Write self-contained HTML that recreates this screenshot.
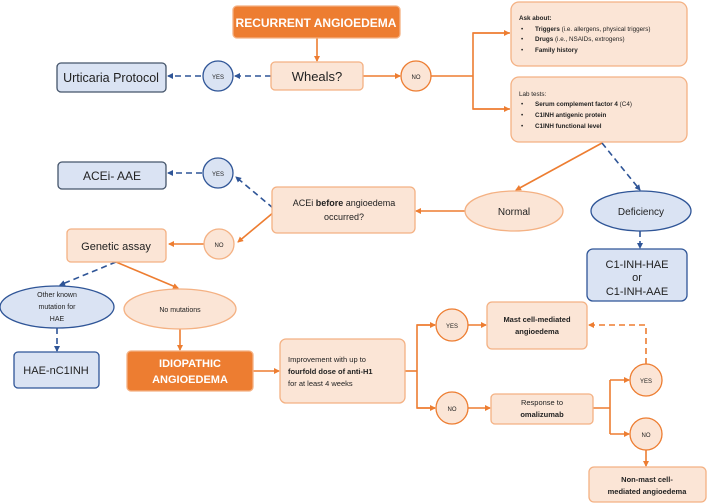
<!DOCTYPE html>
<html><head><meta charset="utf-8"><style>
html,body{margin:0;padding:0;background:#fff;}
svg{display:block;font-family:"Liberation Sans",sans-serif;}
</style></head><body>
<svg width="708" height="504" viewBox="0 0 708 504" xmlns="http://www.w3.org/2000/svg">
<defs>
<marker id="ao" markerWidth="6" markerHeight="6" refX="5" refY="3" orient="auto" markerUnits="userSpaceOnUse"><path d="M0,0 L6,3 L0,6 z" fill="#ED7D31"/></marker>
<marker id="ab" markerWidth="6" markerHeight="6" refX="5" refY="3" orient="auto" markerUnits="userSpaceOnUse"><path d="M0,0 L6,3 L0,6 z" fill="#2F5597"/></marker>
</defs>
<g fill="none" stroke-width="1.6">
<g stroke="#ED7D31">
<line x1="317" y1="38" x2="317" y2="61" marker-end="url(#ao)"/>
<line x1="363" y1="76" x2="400" y2="76" marker-end="url(#ao)"/>
<line x1="431" y1="76" x2="473" y2="76"/>
<polyline points="510,33 473,33 473,109 510,109"/>
<line x1="473" y1="33" x2="509" y2="33" marker-end="url(#ao)"/>
<line x1="473" y1="109" x2="509" y2="109" marker-end="url(#ao)"/>
<line x1="602" y1="143" x2="516" y2="190" marker-end="url(#ao)"/>
<line x1="465" y1="211" x2="416" y2="211" marker-end="url(#ao)"/>
<line x1="274" y1="212" x2="238" y2="242" marker-end="url(#ao)"/>
<line x1="205" y1="244" x2="169" y2="244" marker-end="url(#ao)"/>
<line x1="116" y1="262" x2="178" y2="288" marker-end="url(#ao)"/>
<line x1="180" y1="329" x2="180" y2="350" marker-end="url(#ao)"/>
<line x1="253" y1="371" x2="279" y2="371" marker-end="url(#ao)"/>
<line x1="405" y1="371" x2="417" y2="371"/>
<polyline points="435,325 417,325 417,408 435,408"/>
<line x1="417" y1="325" x2="435" y2="325" marker-end="url(#ao)"/>
<line x1="417" y1="408" x2="435" y2="408" marker-end="url(#ao)"/>
<line x1="468" y1="325" x2="486" y2="325" marker-end="url(#ao)"/>
<line x1="468" y1="408" x2="490" y2="408" marker-end="url(#ao)"/>
<line x1="593" y1="408" x2="610" y2="408"/>
<line x1="610" y1="380" x2="610" y2="434"/>
<line x1="610" y1="380" x2="629" y2="380" marker-end="url(#ao)"/>
<line x1="610" y1="434" x2="629" y2="434" marker-end="url(#ao)"/>
<line x1="646" y1="450" x2="646" y2="466" marker-end="url(#ao)"/>
<polyline points="646,364 646,325 589,325" stroke-dasharray="6,4" marker-end="url(#ao)"/>
</g>
<g stroke="#2F5597" stroke-dasharray="6,4">
<line x1="271" y1="76" x2="235" y2="76" marker-end="url(#ab)"/>
<line x1="201" y1="76" x2="168" y2="76" marker-end="url(#ab)"/>
<line x1="602" y1="143" x2="640" y2="190" marker-end="url(#ab)"/>
<line x1="640" y1="231" x2="640" y2="248" marker-end="url(#ab)"/>
<line x1="273" y1="208" x2="236" y2="177" marker-end="url(#ab)"/>
<line x1="202" y1="173" x2="168" y2="173" marker-end="url(#ab)"/>
<line x1="116" y1="262" x2="60" y2="285" marker-end="url(#ab)"/>
<line x1="57" y1="328" x2="57" y2="351" marker-end="url(#ab)"/>
</g>
</g>
<g stroke-width="1.3">
<rect x="233" y="6" width="167" height="32" rx="4" fill="#ED7D31" stroke="#F4B183"/>
<rect x="271" y="62" width="92" height="28" rx="4" fill="#FBE5D6" stroke="#F4B183"/>
<rect x="57" y="63" width="109" height="29" rx="4" fill="#DAE3F3" stroke="#44546A"/>
<circle cx="218" cy="76" r="15" fill="#DAE3F3" stroke="#2F5597"/>
<circle cx="416" cy="76" r="15" fill="#FBE5D6" stroke="#ED7D31"/>
<rect x="511" y="2" width="176" height="64" rx="8" fill="#FBE5D6" stroke="#F4B183"/>
<rect x="511" y="77" width="176" height="65" rx="8" fill="#FBE5D6" stroke="#F4B183"/>
<ellipse cx="514" cy="211" rx="49" ry="20" fill="#FBE5D6" stroke="#F4B183"/>
<ellipse cx="641" cy="211" rx="50" ry="20" fill="#DAE3F3" stroke="#2F5597"/>
<rect x="272" y="187" width="143" height="46" rx="5" fill="#FBE5D6" stroke="#F4B183"/>
<circle cx="218" cy="173" r="15" fill="#DAE3F3" stroke="#2F5597"/>
<rect x="58" y="162" width="108" height="27" rx="4" fill="#DAE3F3" stroke="#44546A"/>
<circle cx="219" cy="244" r="15" fill="#FBE5D6" stroke="#F4B183"/>
<rect x="67" y="229" width="99" height="33" rx="4" fill="#FBE5D6" stroke="#F4B183"/>
<rect x="587" y="249" width="100" height="52" rx="6" fill="#DAE3F3" stroke="#2F5597"/>
<ellipse cx="57" cy="307" rx="57" ry="21" fill="#DAE3F3" stroke="#2F5597"/>
<ellipse cx="180" cy="309" rx="56" ry="20" fill="#FBE5D6" stroke="#F4B183"/>
<rect x="14" y="352" width="85" height="36" rx="4" fill="#DAE3F3" stroke="#2F5597"/>
<rect x="127" y="351" width="126" height="40" rx="4" fill="#ED7D31" stroke="#F4B183"/>
<rect x="280" y="339" width="125" height="64" rx="6" fill="#FBE5D6" stroke="#F4B183"/>
<circle cx="452" cy="325" r="16" fill="#FBE5D6" stroke="#ED7D31"/>
<circle cx="452" cy="408" r="16" fill="#FBE5D6" stroke="#ED7D31"/>
<rect x="487" y="302" width="100" height="47" rx="5" fill="#FBE5D6" stroke="#F4B183"/>
<rect x="491" y="394" width="102" height="30" rx="4" fill="#FBE5D6" stroke="#F4B183"/>
<circle cx="646" cy="380" r="16" fill="#FBE5D6" stroke="#ED7D31"/>
<circle cx="646" cy="434" r="16" fill="#FBE5D6" stroke="#ED7D31"/>
<rect x="589" y="467" width="117" height="35" rx="5" fill="#FBE5D6" stroke="#F4B183"/>
</g>
<g fill="#222" text-anchor="middle">
<text x="316" y="27" font-size="12" font-weight="bold" fill="#fff">RECURRENT ANGIOEDEMA</text>
<text x="317" y="81" font-size="13">Wheals?</text>
<text x="111" y="82" font-size="12.5">Urticaria Protocol</text>
<text x="218" y="79" font-size="6">YES</text>
<text x="416" y="79" font-size="6">NO</text>
<text x="514" y="215" font-size="10">Normal</text>
<text x="641" y="215" font-size="10">Deficiency</text>
<text x="344" y="206" font-size="9">ACEi <tspan font-weight="bold">before</tspan> angioedema</text>
<text x="344" y="220" font-size="9">occurred?</text>
<text x="218" y="176" font-size="6">YES</text>
<text x="112" y="180" font-size="12">ACEi- AAE</text>
<text x="219" y="247" font-size="6">NO</text>
<text x="116" y="250" font-size="11">Genetic assay</text>
<text x="637" y="268" font-size="11">C1-INH-HAE</text>
<text x="637" y="281" font-size="11">or</text>
<text x="637" y="295" font-size="11">C1-INH-AAE</text>
<text x="57" y="297" font-size="7">Other known</text>
<text x="57" y="309" font-size="7">mutation for</text>
<text x="57" y="321" font-size="7">HAE</text>
<text x="180" y="312" font-size="7">No mutations</text>
<text x="56" y="374" font-size="11">HAE-nC1INH</text>
<text x="190" y="367" font-size="11" font-weight="bold" fill="#fff">IDIOPATHIC</text>
<text x="190" y="383" font-size="11" font-weight="bold" fill="#fff">ANGIOEDEMA</text>
<g text-anchor="start" font-size="7.5">
<text x="288" y="362">Improvement with up to</text>
<text x="288" y="374" font-weight="bold">fourfold dose of anti-H1</text>
<text x="288" y="386">for at least 4 weeks</text>
</g>
<text x="452" y="328" font-size="6">YES</text>
<text x="452" y="411" font-size="6">NO</text>
<text x="537" y="322" font-size="7.5" font-weight="bold">Mast cell-mediated</text>
<text x="537" y="334" font-size="7.5" font-weight="bold">angioedema</text>
<text x="542" y="405" font-size="7.5">Response to</text>
<text x="542" y="417" font-size="7.5" font-weight="bold">omalizumab</text>
<text x="646" y="383" font-size="6">YES</text>
<text x="646" y="437" font-size="6">NO</text>
<text x="647" y="482" font-size="7.5" font-weight="bold">Non-mast cell-</text>
<text x="647" y="494" font-size="7.5" font-weight="bold">mediated angioedema</text>
</g>
<g font-size="6.3" fill="#222">
<text x="519" y="20" font-weight="bold">Ask about:</text>
<text x="521" y="31">•</text><text x="535" y="31"><tspan font-weight="bold">Triggers</tspan> (i.e. allergens, physical triggers)</text>
<text x="521" y="41">•</text><text x="535" y="41"><tspan font-weight="bold">Drugs</tspan> (i.e., NSAIDs, extrogens)</text>
<text x="521" y="52">•</text><text x="535" y="52" font-weight="bold">Family history</text>
<text x="519" y="96">Lab tests:</text>
<text x="521" y="106">•</text><text x="535" y="106"><tspan font-weight="bold">Serum complement factor 4</tspan> (C4)</text>
<text x="521" y="117">•</text><text x="535" y="117" font-weight="bold">C1INH antigenic protein</text>
<text x="521" y="128">•</text><text x="535" y="128" font-weight="bold">C1INH functional level</text>
</g>
</svg>
</body></html>
